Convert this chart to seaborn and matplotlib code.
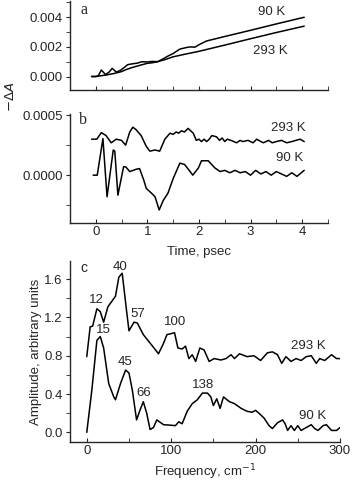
import numpy as np
import pandas as pd
import matplotlib
matplotlib.use("Agg")
import matplotlib.pyplot as plt
import seaborn as sns
from matplotlib.ticker import MultipleLocator

# panel a: -dA vs time (psec)
t_a_90 = [-0.08, 0.0, 0.05, 0.11, 0.19, 0.26, 0.32, 0.40, 0.48, 0.55, 0.62, 0.70, 0.80, 0.90, 1.00, 1.10, 1.20,
          1.30, 1.40, 1.50, 1.63, 1.75, 1.83, 1.92, 2.02, 2.15, 2.50, 3.00, 3.50, 4.04]
a_90 = [0.0, 0.0, 0.00005, 0.00044, 0.00013, 0.0003, 0.00055, 0.0003, 0.00042, 0.0006, 0.0008, 0.00085, 0.0009,
        0.001, 0.00098, 0.00102, 0.001, 0.00118, 0.00138, 0.00155, 0.00185, 0.00195, 0.002, 0.00198, 0.00218,
        0.0024, 0.0027, 0.00312, 0.00355, 0.004]
t_a_293 = [-0.08, 0.0, 0.10, 0.20, 0.35, 0.50, 0.60, 0.70, 0.85, 1.00, 1.10, 1.20, 1.35, 1.50, 1.75, 2.00, 2.50,
           3.00, 3.50, 4.04]
a_293 = [0.0, 0.0, 0.00005, 0.0001, 0.0002, 0.00033, 0.00048, 0.0006, 0.00075, 0.00089, 0.00093, 0.001, 0.00115,
         0.00133, 0.00152, 0.0017, 0.00212, 0.00255, 0.00297, 0.0034]

# panel b: oscillatory part
t_b_293 = [-0.08, 0.02, 0.11, 0.2, 0.3, 0.4, 0.5, 0.58, 0.66, 0.72, 0.78, 0.88, 0.98, 1.05, 1.15, 1.24, 1.34, 1.44,
           1.50, 1.56, 1.61, 1.66, 1.72, 1.79, 1.89, 1.95, 2.00, 2.05, 2.10, 2.15, 2.20, 2.25, 2.34, 2.40, 2.45,
           2.50, 2.55, 2.62, 2.73, 2.80, 2.85, 2.95, 3.05, 3.12, 3.20, 3.25, 3.35, 3.42, 3.5, 3.6, 3.7, 3.8, 3.88,
           3.96, 4.04]
b_293 = [0.0003, 0.0003, 0.000355, 0.00033, 0.00027, 0.0003, 0.00029, 0.00025, 0.00036, 0.0004, 0.00038, 0.00033,
         0.00024, 0.0002, 0.00021, 0.0002, 0.0003, 0.00035, 0.00034, 0.00036, 0.00035, 0.00037, 0.00036, 0.00039,
         0.00035, 0.00029, 0.0003, 0.00028, 0.0003, 0.00028, 0.0003, 0.00033, 0.00032, 0.00029, 0.00031, 0.00028,
         0.0003, 0.00029, 0.00027, 0.00029, 0.00028, 0.00029, 0.00027, 0.0003, 0.00028, 0.00027, 0.00029, 0.00027,
         0.00028, 0.00029, 0.00027, 0.00028, 0.00029, 0.0003, 0.00028]
t_b_90 = [-0.05, 0.03, 0.14, 0.22, 0.34, 0.37, 0.43, 0.54, 0.58, 0.66, 0.79, 0.85, 0.93, 0.98, 1.08, 1.15, 1.23,
          1.31, 1.40, 1.50, 1.63, 1.72, 1.83, 1.88, 1.99, 2.05, 2.18, 2.31, 2.41, 2.5, 2.6, 2.7, 2.8, 2.9, 3.0, 3.1,
          3.2, 3.3, 3.4, 3.5, 3.6, 3.7, 3.8, 3.9, 4.04]
b_90 = [0.0, 0.0, 0.000305, -0.00018, 0.00021, 0.0002, -0.000167, 0.00007, 0.00007, 0.00003, 0.00005, 0.000055,
        -0.00004, -0.00011, -0.00015, -0.00018, -0.00029, -0.00021, -0.00015, -0.00003, 0.0001, 0.00009, 0.00003,
        0.0, 0.00006, 0.00012, 0.00012, 0.00006, 0.00003, 0.00004, 0.00002, 0.00004, 0.00002, 0.00003, 0.0,
        0.00004, 0.00001, 0.00003, 0.0, 0.00003, 0.00001, -0.00001, 0.00002, -0.00001, 0.00004]

# panel c: Fourier amplitude vs frequency (cm-1)
f_293 = [0, 4, 7, 12, 16, 20, 25, 34, 38, 42, 47, 50, 56, 60, 67, 77, 85, 91, 95, 100, 104, 108, 113, 117, 121,
         125, 129, 134, 139, 145, 151, 159, 165, 171, 175, 181, 190, 198, 206, 214, 220, 226, 231, 236, 242, 248,
         254, 260, 266, 272, 276, 282, 290, 296, 300]
c_293 = [0.79, 1.1, 1.11, 1.29, 1.26, 1.15, 1.31, 1.42, 1.62, 1.66, 1.28, 1.06, 1.15, 1.14, 1.02, 0.91, 0.82,
         0.93, 1.02, 1.03, 1.04, 0.88, 0.87, 0.9, 0.77, 0.81, 0.74, 0.88, 0.86, 0.74, 0.77, 0.755, 0.77, 0.81,
         0.77, 0.82, 0.79, 0.8, 0.75, 0.83, 0.84, 0.81, 0.72, 0.79, 0.74, 0.77, 0.75, 0.79, 0.8, 0.72, 0.77, 0.75,
         0.81, 0.77, 0.77]
f_90 = [0, 6, 12, 16, 20, 26, 32, 34, 40, 46, 50, 54, 59, 63, 67, 71, 75, 79, 83, 91, 99, 105, 109, 113, 119, 125,
        131, 137, 143, 147, 150, 154, 158, 162, 169, 175, 183, 190, 196, 200, 204, 210, 216, 220, 226, 232, 235,
        238, 242, 246, 250, 254, 260, 266, 270, 274, 280, 284, 290, 296, 300]
c_90 = [0.0, 0.44, 0.96, 1.0, 0.88, 0.51, 0.37, 0.34, 0.51, 0.65, 0.62, 0.44, 0.13, 0.23, 0.32, 0.2, 0.03, 0.05,
        0.13, 0.08, 0.075, 0.07, 0.11, 0.09, 0.22, 0.3, 0.34, 0.41, 0.41, 0.37, 0.28, 0.35, 0.25, 0.37, 0.32, 0.3,
        0.25, 0.22, 0.21, 0.23, 0.2, 0.15, 0.07, 0.04, 0.1, 0.13, 0.09, 0.02, 0.07, 0.02, 0.07, 0.02, 0.05, 0.08,
        0.04, 0.02, 0.07, 0.08, 0.02, 0.02, 0.05]

peaks_293 = [("12", 11, 1.38), ("40", 39, 1.73), ("57", 60, 1.24), ("100", 105, 1.15)]
peaks_90 = [("15", 20, 1.07), ("45", 45, 0.73), ("66", 67, 0.41), ("138", 138, 0.49)]

fs = 9.5
sns.set_style("ticks")
plt.rcParams['font.family'] = ['Liberation Sans', 'DejaVu Sans']
plt.rcParams['font.size'] = fs
plt.rcParams['xtick.direction'] = 'in'
plt.rcParams['ytick.direction'] = 'out'
plt.rcParams['xtick.major.size'] = 3
plt.rcParams['xtick.minor.size'] = 3
plt.rcParams['ytick.major.size'] = 3
plt.rcParams['ytick.minor.size'] = 3
plt.rcParams['axes.linewidth'] = 1.0

fig = plt.figure(figsize=(3.53, 4.83), dpi=100)
ax_a = fig.add_axes([0.198, 0.814, 0.731, 0.184])
ax_b = fig.add_axes([0.198, 0.538, 0.731, 0.226])
ax_c = fig.add_axes([0.198, 0.085, 0.765, 0.375])

lw = 1.1
sns.lineplot(x=t_a_90, y=a_90, ax=ax_a, color='black', lw=lw, sort=False)
sns.lineplot(x=t_a_293, y=a_293, ax=ax_a, color='black', lw=lw, sort=False)
sns.lineplot(x=t_b_293, y=b_293, ax=ax_b, color='black', lw=lw, sort=False)
sns.lineplot(x=t_b_90, y=b_90, ax=ax_b, color='black', lw=lw, sort=False)
sns.lineplot(x=f_293, y=c_293, ax=ax_c, color='black', lw=lw, sort=False)
sns.lineplot(x=f_90, y=c_90, ax=ax_c, color='black', lw=lw, sort=False)

for ax in (ax_a, ax_b, ax_c):
    sns.despine(ax=ax)
    ax.tick_params(which='both', labelsize=fs, pad=2)

ax_a.set_xlim(-0.5, 4.5)
ax_a.xaxis.set_major_locator(MultipleLocator(1))
ax_a.xaxis.set_minor_locator(MultipleLocator(0.5))
ax_a.set_yticks([0.0, 0.002, 0.004])
ax_a.set_yticklabels(["0.000", "0.002", "0.004"])
ax_a.yaxis.set_minor_locator(MultipleLocator(0.001))
ax_a.set_ylim(-0.0009, 0.0051)
ax_a.tick_params(axis='x', labelbottom=False)
ax_a.text(3.15, 0.00413, "90 K", fontsize=fs)
ax_a.text(3.05, 0.0015, "293 K", fontsize=fs)
ax_a.text(-0.23, 0.0045, "a", family=['Liberation Serif'], fontsize=11.5, ha='center', va='center')

ax_b.set_xlim(-0.5, 4.5)
ax_b.xaxis.set_major_locator(MultipleLocator(1))
ax_b.xaxis.set_minor_locator(MultipleLocator(0.5))
ax_b.set_yticks([0.0, 0.0005])
ax_b.set_yticklabels(["0.0000", "0.0005"])
ax_b.yaxis.set_minor_locator(MultipleLocator(0.00025))
ax_b.set_ylim(-0.0004, 0.00051)
ax_b.set_xlabel("Time, psec", fontsize=fs, labelpad=6)
ax_b.text(3.4, 0.00037, "293 K", fontsize=fs)
ax_b.text(3.5, 0.000117, "90 K", fontsize=fs)
ax_b.text(-0.25, 0.00046, "b", family=['Liberation Serif'], fontsize=11.5, ha='center', va='center')

fig.text(0.03, 0.80, r"$-\Delta A$", rotation=90, ha='center', va='center', fontsize=fs,
         math_fontfamily='dejavusans')

ax_c.set_xlim(-20, 300)
ax_c.xaxis.set_major_locator(MultipleLocator(100))
ax_c.xaxis.set_minor_locator(MultipleLocator(50))
ax_c.set_yticks([0.0, 0.4, 0.8, 1.2, 1.6])
ax_c.set_yticklabels(["0.0", "0.4", "0.8", "1.2", "1.6"])
ax_c.yaxis.set_minor_locator(MultipleLocator(0.2))
ax_c.set_ylim(-0.1, 1.79)
ax_c.set_xlabel("Frequency, cm$^{-1}$", fontsize=fs, labelpad=4)
ax_c.set_ylabel("Amplitude, arbitrary units", fontsize=fs, labelpad=2)
for lab, x, y in peaks_293 + peaks_90:
    ax_c.text(x, y, lab, ha='center', va='center', fontsize=fs)
ax_c.text(262, 0.9, "293 K", ha='center', va='center', fontsize=fs)
ax_c.text(268, 0.17, "90 K", ha='center', va='center', fontsize=fs)
ax_c.text(-3, 1.71, "c", ha='center', va='center', fontsize=10)

fig.savefig("out.png", dpi=100)
